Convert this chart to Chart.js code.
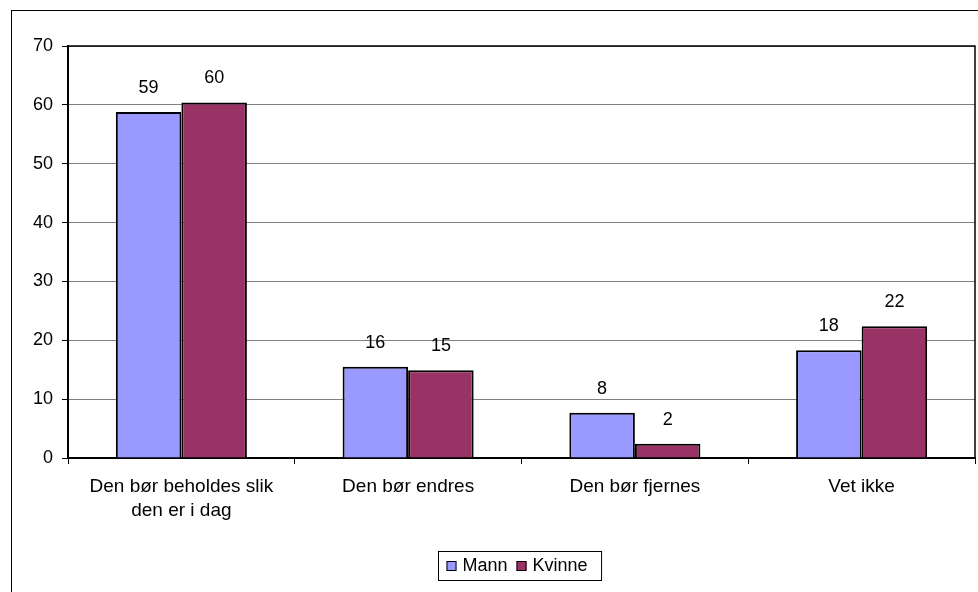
<!DOCTYPE html>
<html>
<head>
<meta charset="utf-8">
<script src="https://cdn.jsdelivr.net/npm/chart.js@4.4.1/dist/chart.umd.min.js"></script>
<style>
  html, body { margin: 0; padding: 0; background: #fff; }
  #wrap { width: 978px; height: 592px; }
</style>
</head>
<body>
<div id="wrap"><canvas id="chart" width="978" height="592"></canvas></div>
<script>
// data
const categories = [["Den bør beholdes slik", "den er i dag"], "Den bør endres", "Den bør fjernes", "Vet ikke"];
const seriesNames = ["Mann", "Kvinne"];
const mannValues = [58.8, 15.5, 7.7, 18.3];
const kvinneValues = [60.4, 14.9, 2.4, 22.4];
const yTicks = [0, 10, 20, 30, 40, 50, 60, 70];
const colors = ["#9999FF", "#993366"];

const FONT = "'Liberation Sans', Arial, sans-serif";
Chart.defaults.font.family = FONT;
Chart.defaults.font.size = 18;
Chart.defaults.color = "#000";

// outer frame, plot border and boxed legend
const framePlugin = {
  id: "frame",
  beforeDraw(chart) {
    const ctx = chart.ctx;
    ctx.save();
    ctx.strokeStyle = "#000";
    ctx.lineWidth = 1;
    ctx.strokeRect(11.5, 10.5, 2000, 2000);
    ctx.restore();
  },
  afterDraw(chart) {
    const ctx = chart.ctx;
    const a = chart.chartArea;
    ctx.save();
    ctx.strokeStyle = "#000";
    ctx.lineWidth = 1.5;
    ctx.beginPath();
    ctx.moveTo(a.left, a.top);
    ctx.lineTo(a.right, a.top);
    ctx.lineTo(a.right, a.bottom);
    ctx.stroke();

    // legend
    ctx.font = "18px " + FONT;
    const sw = 10, gap = 6, itemGap = 9, padL = 8, padR = 14;
    const widths = seriesNames.map(n => ctx.measureText(n).width);
    let total = padL + padR;
    widths.forEach((w, i) => { total += sw + gap + w + (i > 0 ? itemGap : 0); });
    const cx = 520, cy = 565.5;
    const left = Math.round(cx - total / 2) + 0.5;
    ctx.lineWidth = 1;
    ctx.strokeRect(left, 551.5, total, 29);
    let x = left + padL;
    ctx.textBaseline = "middle";
    seriesNames.forEach((n, i) => {
      if (i > 0) x += itemGap;
      ctx.fillStyle = chart.data.datasets[i].backgroundColor;
      ctx.fillRect(x, cy - 4.5, sw, sw);
      ctx.strokeStyle = "#000";
      ctx.strokeRect(x + 0.5, cy - 4.5 + 0.5, sw - 1, sw - 1);
      x += sw + gap;
      ctx.fillStyle = "#000";
      ctx.fillText(n, x, cy + 1);
      x += widths[i];
    });
    ctx.restore();
  }
};

// rounded value above each bar
const valueLabels = {
  id: "valueLabels",
  afterDatasetsDraw(chart) {
    const ctx = chart.ctx;
    ctx.save();
    ctx.font = "18px " + FONT;
    ctx.fillStyle = "#000";
    ctx.textAlign = "center";
    ctx.textBaseline = "middle";
    chart.data.datasets.forEach((ds, i) => {
      chart.getDatasetMeta(i).data.forEach((bar, j) => {
        ctx.fillText(String(Math.round(ds.data[j])), bar.x, bar.y - 24);
      });
    });
    ctx.restore();
  }
};

new Chart(document.getElementById("chart"), {
  type: "bar",
  data: {
    labels: categories,
    datasets: [
      { label: seriesNames[0], data: mannValues, backgroundColor: colors[0], borderColor: "#000", borderWidth: 2 },
      { label: seriesNames[1], data: kvinneValues, backgroundColor: colors[1], borderColor: "#000", borderWidth: 2 }
    ]
  },
  options: {
    responsive: false,
    animation: false,
    devicePixelRatio: 1,
    categoryPercentage: 0.578,
    barPercentage: 1,
    layout: { padding: { left: 0, top: 46, right: 3, bottom: 0 } },
    plugins: {
      legend: { display: false },
      tooltip: { enabled: false }
    },
    scales: {
      x: {
        grid: { offset: true, drawOnChartArea: false, tickLength: 6, tickColor: "#000" },
        border: { color: "#000", width: 2 },
        ticks: { padding: 10, maxRotation: 0, font: { size: 19, lineHeight: 1.3 } },
        afterFit(s) { s.height = 592 - 458; }
      },
      y: {
        min: 0,
        max: 70,
        afterBuildTicks(s) { s.ticks = yTicks.map(v => ({ value: v })); },
        grid: { color: "#808080", tickColor: "#000", tickLength: 6 },
        border: { color: "#000", width: 2 },
        ticks: { padding: 9, font: { size: 18 } },
        afterFit(s) { s.width = 68; }
      }
    }
  },
  plugins: [framePlugin, valueLabels]
});
</script>
</body>
</html>
